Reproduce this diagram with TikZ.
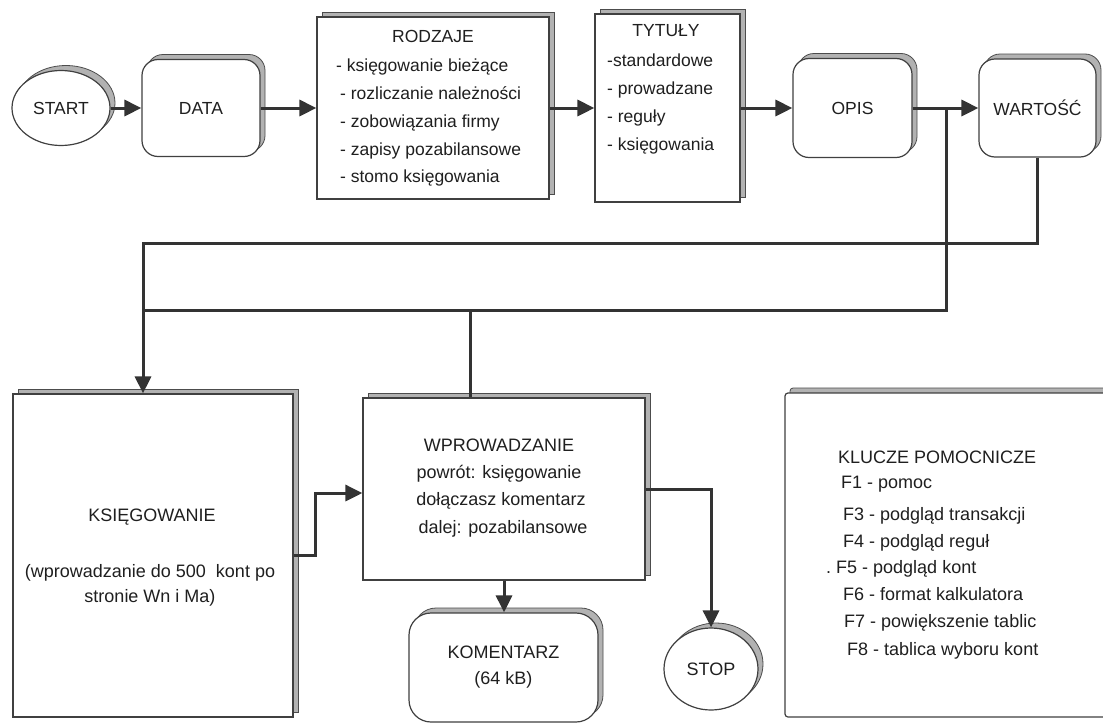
\documentclass[tikz,border=0pt]{standalone}
\usepackage{fontspec}
\setmainfont{Liberation Sans}
\usetikzlibrary{arrows.meta,shapes.geometric,shadows,calc}

\tikzset{
  txt/.style={font=\fontsize{17.5}{20}\selectfont, text=black!88, inner sep=0pt},
  btxt/.style={font=\fontsize{18}{20}\selectfont, text=black!88, inner sep=0pt},
  lline/.style={anchor=base west},
  cline/.style={anchor=base},
  raised/.style={drop shadow={shadow xshift=5pt, shadow yshift=5pt,
      fill=gray!60, draw=black!70, line width=0.8pt, opacity=1}},
  box/.style={draw=black!75, line width=1.2pt, fill=white, inner sep=0pt, raised},
  sqbox/.style={box, rectangle},
  rdbox/.style={box, rectangle, rounded corners=16pt},
  ovalbox/.style={box, ellipse},
  wire/.style={draw=black!80, line width=3pt},
  conn/.style={wire, -{Triangle[length=17pt,width=16pt]}},
}

\begin{document}
\begin{tikzpicture}[x=1pt,y=-1pt]
\useasboundingbox (0,0) rectangle (1103,723);
\fill[white] (0,0) rectangle (1103,723);
\clip (0,0) rectangle (1103,723);

% ---- top row ----
\node[ovalbox, txt, minimum width=98pt, minimum height=75pt] (start) at (61,108) {START};
\node[rdbox, txt, minimum width=118pt, minimum height=97pt] (data) at (201,108) {DATA};
\node[sqbox, minimum width=232pt, minimum height=182pt] (rodzaje) at (433,108) {};
\node[sqbox, minimum width=145pt, minimum height=188pt] (tytuly) at (667.5,108) {};
\node[rdbox, txt, minimum width=119pt, minimum height=99pt] (opis) at (852.5,108) {OPIS};
\node[rdbox, txt, minimum width=117pt, minimum height=98pt] (wartosc) at (1037.5,108) {WARTOŚĆ};

% list of kinds
\node[txt, cline] (rtitle) at (433,42.7) {RODZAJE};
\node[txt, lline] (r1) at (336,71.7) {- księgowanie bieżące};
\node[txt, lline] (r2) at (340,99.3) {- rozliczanie należności};
\node[txt, lline] (r3) at (340,127) {- zobowiązania firmy};
\node[txt, lline] (r4) at (340,155) {- zapisy pozabilansowe};
\node[txt, lline] (r5) at (340,182.7) {- stomo księgowania};

% list of titles
\node[txt, cline] (ttitle) at (666,36.7) {TYTUŁY};
\node[txt, lline] (t1) at (607,66.7) {-standardowe};
\node[txt, lline] (t2) at (607,94) {- prowadzane};
\node[txt, lline] (t3) at (607,122.7) {- reguły};
\node[txt, lline] (t4) at (607,150) {- księgowania};

% ---- bottom row ----
\node[sqbox, minimum width=280pt, minimum height=323pt] (ksieg) at (153,555.5) {};
\node[btxt, cline] (k1) at (152,521) {KSIĘGOWANIE};
\node[btxt, cline] (k2) at (150,577) {(wprowadzanie do 500\ \ kont po};
\node[btxt, cline] (k3) at (150,602) {stronie Wn i Ma)};

\node[sqbox, minimum width=282pt, minimum height=182pt] (wprow) at (504,489) {};
\node[btxt, cline] (w1) at (499,451) {WPROWADZANIE};
\node[btxt, cline] (w2) at (499,478) {powrót: księgowanie};
\node[btxt, cline] (w3) at (501,505) {dołączasz komentarz};
\node[btxt, cline] (w4) at (503,533) {dalej: pozabilansowe};

\node[rdbox, rounded corners=22pt, btxt, align=center, minimum width=189pt, minimum height=109pt]
  (koment) at (503.5,667.5) {KOMENTARZ\\[6pt](64 kB)};

\node[ovalbox, btxt, minimum width=94pt, minimum height=82pt] (stop) at (711,669) {STOP};

\node[sqbox, rounded corners=3pt, minimum width=330pt, minimum height=324pt] (klucze) at (950,555) {};
\node[btxt, lline] (f0) at (838,463) {KLUCZE POMOCNICZE};
\node[btxt, lline] (f1) at (841,488) {F1 - pomoc};
\node[btxt, lline] (f3) at (843,520) {F3 - podgląd transakcji};
\node[btxt, lline] (f4) at (843,547) {F4 - podgląd reguł};
\node[btxt, lline] (f5) at (826,573) {.\ F5 - podgląd kont};
\node[btxt, lline] (f6) at (843,600) {F6 - format kalkulatora};
\node[btxt, lline] (f7) at (844,627) {F7 - powiększenie tablic};
\node[btxt, lline] (f8) at (847,655) {F8 - tablica wyboru kont};

% ---- connectors ----
\coordinate (jA) at (946,108);
\coordinate (jB) at (143,243);
\coordinate (jC) at (143,310);
\coordinate (jD) at (470,310);

\draw[conn] (start.east) -- (data.west);
\draw[conn] (data.east) -- (rodzaje.west);
\draw[conn] (rodzaje.east) -- (tytuly.west);
\draw[conn] (tytuly.east) -- (opis.west);
\draw[conn] (opis.east) -- (wartosc.west);

\draw[wire] (jA) |- (jC);
\draw[conn] (wartosc.south) |- (jB) -- (jB |- ksieg.north);
\draw[wire] (jD) -- (jD |- wprow.north);

\draw[conn] (ksieg.east) -- ++(22,0) |- ([yshift=-4pt]wprow.west);
\draw[conn] (wprow.south) -- (wprow.south |- koment.north);
\draw[conn] (wprow.east) -| (stop.north);

\end{tikzpicture}
\end{document}
